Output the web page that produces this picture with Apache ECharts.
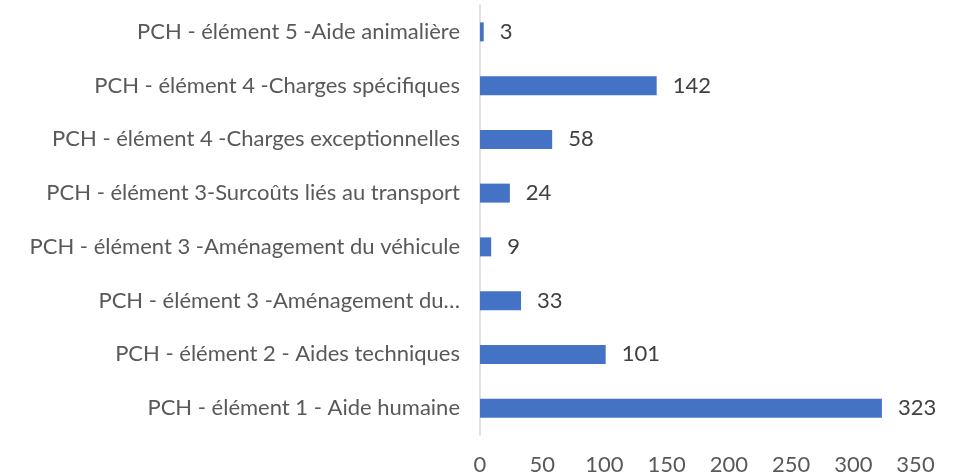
<!DOCTYPE html>
<html>
<head>
<meta charset="utf-8">
<script src="https://cdn.jsdelivr.net/npm/echarts@6/dist/echarts.min.js"></script>
<style>
  html, body { margin: 0; padding: 0; background: #fff; }
  #chart { width: 961px; height: 476px; }
</style>
</head>
<body>
<div id="chart"></div>
<script>
// PCH elements, listed bottom to top
const categories = [
  'PCH - élément 1 - Aide humaine',
  'PCH - élément 2 - Aides techniques',
  'PCH - élément 3 -Aménagement du…',
  'PCH - élément 3 -Aménagement du véhicule',
  'PCH - élément 3-Surcoûts liés au transport',
  'PCH - élément 4 -Charges exceptionnelles',
  'PCH - élément 4 -Charges spécifiques',
  'PCH - élément 5 -Aide animalière'
];
const values = [323, 101, 33, 9, 24, 58, 142, 3];
const xTicks = [0, 50, 100, 150, 200, 250, 300, 350];

const font = 'Lato, "Open Sans", sans-serif';
const textColor = '#595959';
const fontSize = 22;

const chart = echarts.init(document.getElementById('chart'));
chart.setOption({
  animation: false,
  grid: { left: 480, right: 45.5, top: 5, bottom: 41, containLabel: false },
  xAxis: {
    type: 'value',
    min: xTicks[0],
    max: xTicks[xTicks.length - 1],
    interval: 50,
    axisLine: { show: false },
    axisTick: { show: false },
    splitLine: { show: false },
    axisLabel: { color: textColor, fontFamily: font, fontSize: fontSize, margin: 19 }
  },
  yAxis: {
    type: 'category',
    data: categories,
    axisLine: { show: true, lineStyle: { color: '#d9d9d9', width: 1.5 } },
    axisTick: { show: false },
    axisLabel: { color: textColor, fontFamily: font, fontSize: fontSize, margin: 20 }
  },
  series: [{
    type: 'bar',
    data: values,
    barWidth: 19,
    itemStyle: { color: '#4472C4' },
    label: {
      show: true,
      position: 'right',
      distance: 16,
      color: '#404040',
      fontFamily: font,
      fontSize: fontSize
    }
  }]
});
</script>
</body>
</html>
